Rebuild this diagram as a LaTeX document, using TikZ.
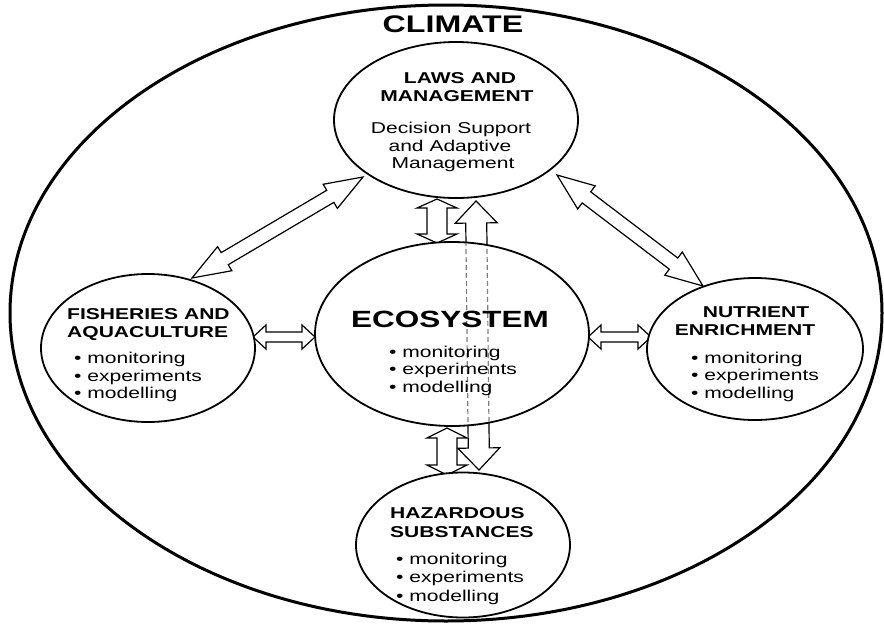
\documentclass[tikz,border=0pt]{standalone}
\usepackage{fontspec}
\setmainfont{Liberation Sans}[FakeStretch=1.34]
\usetikzlibrary{calc,shapes.geometric}
\pgfdeclarelayer{bg}
\pgfsetlayers{bg,main}
\tikzset{
  bubble/.style={draw, ellipse, fill=white, line width=1.8pt, inner sep=0pt, outer sep=0pt},
  bigoval/.style={draw, ellipse, line width=3pt, inner sep=0pt, outer sep=0pt},
  blockarrow/.style={draw, fill=white, line width=1.2pt, line join=miter, miter limit=10},
  ttl/.style={font=\bfseries\fontsize{15.7}{18}\selectfont, inner sep=0pt, anchor=base},
  ttlw/.style={font=\bfseries\fontsize{15.7}{18}\selectfont, inner sep=0pt, anchor=base west},
  txt/.style={font=\fontsize{15.7}{18}\selectfont, inner sep=0pt, anchor=base},
  itm/.style={font=\fontsize{15.7}{18}\selectfont, inner sep=0pt, anchor=base west},
  hiddenline/.style={draw=black!50, line width=1.2pt, dash pattern=on 5pt off 3pt}
}
% #1,#2 tips; #3 shaft half width; #4 head half width; #5 head length
\newcommand\dblarrow[5]{%
  \path (#1) coordinate (ta) (#2) coordinate (tb);
  \path ($(ta)!#5!(tb)$) coordinate (ha) ($(tb)!#5!(ta)$) coordinate (hb);
  \draw[blockarrow] (ta) -- ($(ha)!#4!90:(tb)$) -- ($(ha)!#3!90:(tb)$)
    -- ($(hb)!#3!-90:(ta)$) -- ($(hb)!#4!-90:(ta)$) -- (tb)
    -- ($(hb)!#4!90:(ta)$) -- ($(hb)!#3!90:(ta)$)
    -- ($(ha)!#3!-90:(tb)$) -- ($(ha)!#4!-90:(tb)$) -- cycle;
}
\begin{document}
\begin{tikzpicture}[x=1pt,y=-1pt]
\useasboundingbox (0,0) rectangle (884,627);

% outer climate oval
\node[bigoval, minimum width=872pt, minimum height=616pt] (climateoval) at (446,313) {};
\node[font=\bfseries\fontsize{24}{28}\selectfont, inner sep=0pt, anchor=base] (climate) at (453,32) {CLIMATE};

% bubbles
\node[bubble, minimum width=244pt, minimum height=156pt] (laws) at (456,120) {};
\node[bubble, minimum width=274pt, minimum height=184pt] (eco)  at (452,334) {};
\node[bubble, minimum width=214pt, minimum height=148pt] (fish) at (148,348) {};
\node[bubble, minimum width=216pt, minimum height=142pt] (nutr) at (755,349) {};
\node[bubble, minimum width=214pt, minimum height=145pt] (haz)  at (463,545) {};

% block arrows behind the bubbles
\begin{pgfonlayer}{bg}
  \dblarrow{$(laws.center)+(-93,57)$}{$(fish.center)+(44,-70)$}{7pt}{14pt}{38pt}
  \dblarrow{$(laws.center)+(101,55)$}{$(nutr.center)+(-52,-63)$}{7pt}{14.5pt}{37pt}
  \dblarrow{$(fish.center)+(105,-11)$}{$(eco.center)+(-137,3)$}{5pt}{12pt}{13pt}
  \dblarrow{$(eco.center)+(136,3)$}{$(nutr.center)+(-104,-12)$}{5pt}{12pt}{13pt}
  \dblarrow{$(laws.center)+(-19,79)$}{$(eco.center)+(-15,-91)$}{10pt}{20pt}{9pt}
  \dblarrow{$(eco.center)+(-5,94)$}{$(haz.center)+(-16,-70)$}{10pt}{20pt}{10pt}
  \dblarrow{$(laws.center)+(20,81)$}{$(haz.center)+(16,-75)$}{10.5pt}{21pt}{22pt}
\end{pgfonlayer}

% hidden part of the long arrow through the ecosystem
\path ($(laws.center)+(20,81)$) coordinate (u1) ($(haz.center)+(16,-75)$) coordinate (u2);
\path ($(u1)!10.5pt!90:(u2)$) coordinate (d1a) ($(u2)!10.5pt!-90:(u1)$) coordinate (d1b)
      ($(u1)!10.5pt!-90:(u2)$) coordinate (d2a) ($(u2)!10.5pt!90:(u1)$) coordinate (d2b);
\begin{scope}
  \clip (eco.center) ellipse [x radius=136, y radius=91];
  \draw[hiddenline] (d1a) -- (d1b);
  \draw[hiddenline] (d2a) -- (d2b);
\end{scope}

% laws and management
\node[ttl] (lawsA) at (460,83) {LAWS AND};
\node[ttl] (lawsB) at (457,101) {MANAGEMENT};
\node[txt] (lawsC) at (451,133) {Decision Support};
\node[txt] (lawsD) at (450,151) {and Adaptive};
\node[txt] (lawsE) at (453,168) {Management};

% ecosystem
\node[font=\bfseries\fontsize{23.5}{28}\selectfont, inner sep=0pt, anchor=base] (ecoT) at (450,327) {ECOSYSTEM};
\node[itm] (ecoA) at (389,357) {• monitoring};
\node[itm] (ecoB) at (389,374) {• experiments};
\node[itm] (ecoC) at (389,392) {• modelling};

% fisheries
\node[ttlw] (fishA) at (67,319) {FISHERIES AND};
\node[ttlw] (fishB) at (67,337) {AQUACULTURE};
\node[itm] (fishC) at (74,363) {• monitoring};
\node[itm] (fishD) at (74,381) {• experiments};
\node[itm] (fishE) at (74,398) {• modelling};

% nutrient
\node[ttl] (nutrA) at (756,317) {NUTRIENT};
\node[ttl] (nutrB) at (745,335) {ENRICHMENT};
\node[itm] (nutrC) at (691,363) {• monitoring};
\node[itm] (nutrD) at (691,380) {• experiments};
\node[itm] (nutrE) at (691,398) {• modelling};

% hazardous
\node[ttlw] (hazA) at (390,518) {HAZARDOUS};
\node[ttlw] (hazB) at (390,537) {SUBSTANCES};
\node[itm] (hazC) at (396,564) {• monitoring};
\node[itm] (hazD) at (396,582) {• experiments};
\node[itm] (hazE) at (396,601) {• modelling};
\end{tikzpicture}
\end{document}
